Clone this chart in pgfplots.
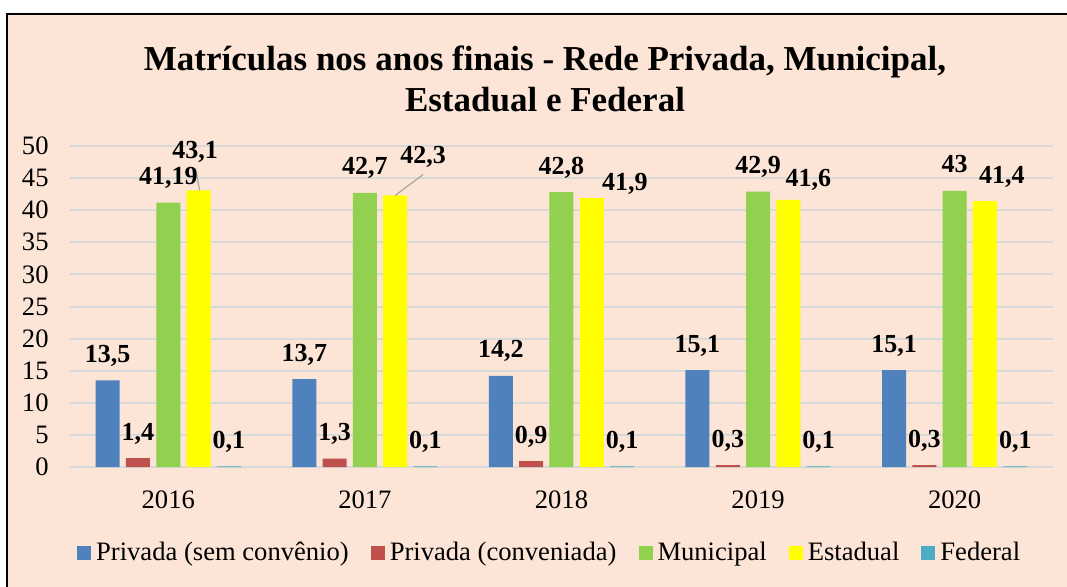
\documentclass[border=0pt]{standalone}
\usepackage{fontspec}
\setmainfont{Liberation Serif}
\usepackage{pgfplots}
\pgfplotsset{compat=1.18}
\definecolor{bg}{HTML}{FCE4D6}
\definecolor{gridgray}{HTML}{D9D9D9}
\definecolor{cblue}{HTML}{4F81BD}
\definecolor{cred}{HTML}{C0504D}
\definecolor{cgreen}{HTML}{92D050}
\definecolor{cyellow}{HTML}{FFFF00}
\definecolor{cfed}{HTML}{4BACC6}
\definecolor{leadergray}{HTML}{A6A6A6}
\newcommand{\lblfont}{\fontsize{13}{15.6}\selectfont\bfseries}
\pgfplotsset{/pgfplots/ybar legend/.style={/pgfplots/legend image code/.code={\fill[##1] (0pt,-3.5pt) rectangle (7pt,3.5pt);}}}
\begin{document}
\begin{tikzpicture}[font=\fontsize{13.3}{16}\selectfont]
\useasboundingbox (0,0) rectangle (533.5pt,293pt);
\begin{scope}
\clip (0,0) rectangle (533.5pt,293pt);
\fill[white] (0,0) rectangle (533.5pt,293pt);
\filldraw[fill=bg, draw=black, line width=1pt] (3.5pt,-10pt) rectangle (545pt,286pt);
\end{scope}
\node[font=\fontsize{17.5}{21}\selectfont\bfseries, anchor=base, inner sep=0pt] at (272.5pt,258pt) {Matrículas nos anos finais - Rede Privada, Municipal,};
\node[font=\fontsize{17.5}{21}\selectfont\bfseries, anchor=base, inner sep=0pt] at (272.5pt,237.5pt) {Estadual e Federal};
\begin{axis}[
  at={(35pt,59.5pt)}, anchor=south west, scale only axis,
  width=491.5pt, height=160.5pt,
  ybar=3.15pt, bar width=12pt,
  xmin=-0.5, xmax=4.5, ymin=0, ymax=50,
  xtick={0,1,2,3,4}, xticklabels={2016,2017,2018,2019,2020},
  ytick={0,5,...,50},
  ymajorgrids, grid style={draw=gridgray, line width=1pt},
  axis line style={draw=none}, major tick length=0pt,
  xticklabel style={anchor=north, inner sep=0pt, yshift=-11.5pt},
  yticklabel style={anchor=east, inner sep=0pt, xshift=-10.5pt},
  /pgf/number format/use comma,
  /pgf/number format/assume math mode=true,
  /pgf/number format/1000 sep={},
  clip=false,
  every node near coord/.append style={font=\lblfont, anchor=base, inner sep=0pt, yshift=9pt},
  legend style={at={(0.4895,-0.268)}, anchor=center, draw=none, fill=none,
    /tikz/every even column/.append style={column sep=8.5pt},
    nodes={inner xsep=2.5pt}},
  legend columns=5,
]
\addplot[fill=cblue, draw=none, nodes near coords] coordinates {(0,13.5) (1,13.7) (2,14.2) (3,15.1) (4,15.1)};
\addplot[fill=cred, draw=none, nodes near coords] coordinates {(0,1.4) (1,1.3) (2,0.9) (3,0.3) (4,0.3)};
\addplot[fill=cgreen, draw=none, nodes near coords] coordinates {(0,41.19) (1,42.7) (2,42.8) (3,42.9) (4,43)};
\addplot[fill=cyellow, draw=none] coordinates {(0,43.1) (1,42.3) (2,41.9) (3,41.6) (4,41.4)};
\addplot[fill=cfed, draw=none, nodes near coords] coordinates {(0,0.1) (1,0.1) (2,0.1) (3,0.1) (4,0.1)};
\legend{Privada (sem convênio),Privada (conveniada),Municipal,Estadual,Federal}
\draw[leadergray, line width=0.6pt] ([xshift=15.65pt]axis cs:0,43.1) -- ++(-2pt,11pt);
\draw[leadergray, line width=0.6pt] ([xshift=15.15pt]axis cs:1,42.3) -- ++(14pt,10.5pt);
\node[font=\lblfont, anchor=base, inner sep=0pt, xshift=13.4pt, yshift=16pt] at (axis cs:0,43.1) {43,1};
\node[font=\lblfont, anchor=base, inner sep=0pt, xshift=29.15pt, yshift=16pt] at (axis cs:1,42.3) {42,3};
\node[font=\lblfont, anchor=base, inner sep=0pt, xshift=31.65pt, yshift=4pt] at (axis cs:2,41.9) {41,9};
\node[font=\lblfont, anchor=base, inner sep=0pt, xshift=25.15pt, yshift=6.5pt] at (axis cs:3,41.6) {41,6};
\node[font=\lblfont, anchor=base, inner sep=0pt, xshift=23.65pt, yshift=9pt] at (axis cs:4,41.4) {41,4};
\end{axis}
\end{tikzpicture}
\end{document}
